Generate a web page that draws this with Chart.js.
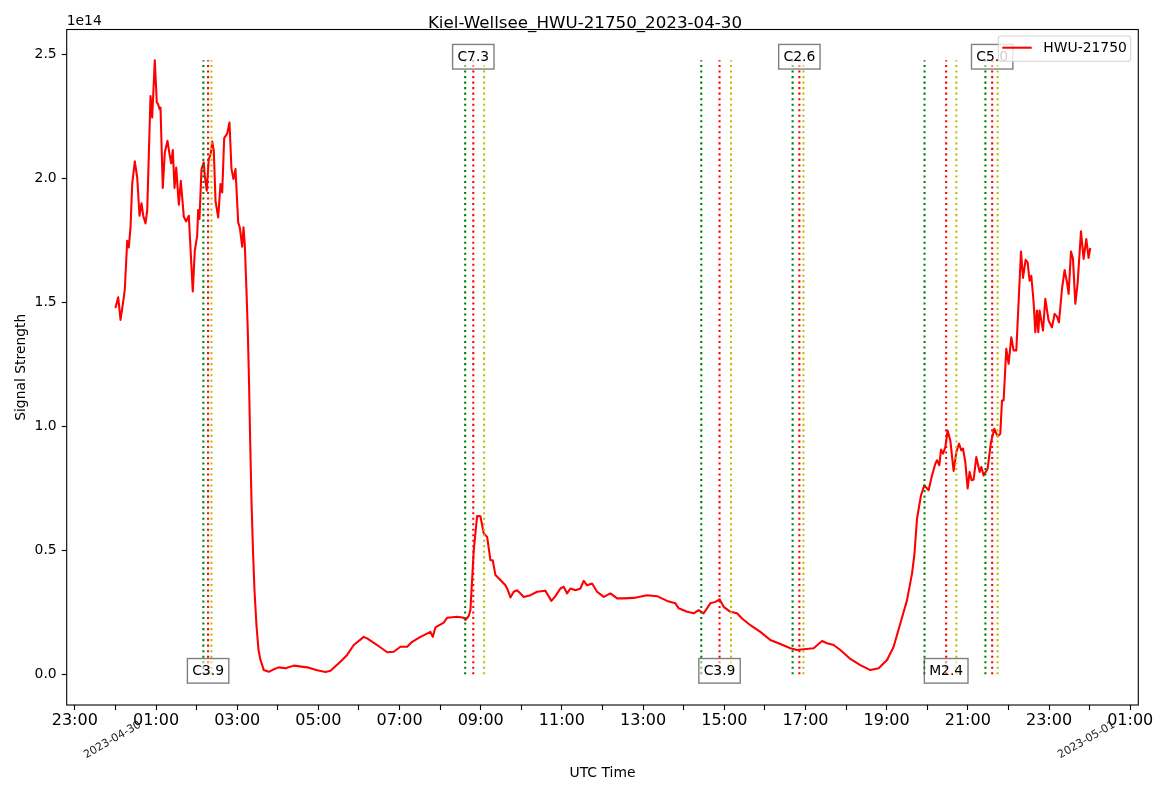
<!DOCTYPE html>
<html><head><meta charset="utf-8">
<script src="https://cdn.jsdelivr.net/npm/chart.js@4.4.0/dist/chart.umd.min.js"></script>
<style>html,body{margin:0;padding:0;background:#fff;}canvas{display:block;}</style>
</head><body>
<canvas id="c" width="1169" height="792"></canvas>
<script>
// ---- data (time in hours UTC since 2023-04-30 00:00, signal in units of 1e14) ----
const chartTitle = "Kiel-Wellsee_HWU-21750_2023-04-30";
const seriesName = "HWU-21750";
const hoursUTC = [0.000,0.069,0.126,0.207,0.232,0.291,0.330,0.372,0.414,0.478,0.537,0.594,0.643,0.685,0.741,0.783,0.865,0.906,0.970,1.020,1.049,1.086,1.111,1.167,1.217,1.283,1.333,1.374,1.414,1.456,1.498,1.562,1.611,1.685,1.744,1.808,1.906,1.956,2.015,2.039,2.071,2.121,2.177,2.202,2.251,2.300,2.350,2.384,2.424,2.466,2.532,2.589,2.631,2.680,2.754,2.810,2.860,2.909,2.958,3.025,3.064,3.123,3.155,3.187,3.229,3.261,3.291,3.320,3.352,3.389,3.426,3.475,3.525,3.574,3.655,3.778,3.901,4.025,4.190,4.394,4.724,4.970,5.175,5.298,5.544,5.709,5.872,6.118,6.202,6.448,6.695,6.857,7.022,7.187,7.310,7.515,7.761,7.818,7.884,8.089,8.172,8.419,8.581,8.623,8.704,8.746,8.828,8.911,8.993,9.074,9.158,9.239,9.296,9.362,9.485,9.608,9.650,9.732,9.813,9.897,9.978,10.059,10.224,10.389,10.593,10.741,10.840,10.963,11.044,11.128,11.209,11.333,11.456,11.537,11.621,11.744,11.867,12.030,12.195,12.360,12.522,12.768,13.099,13.345,13.591,13.796,13.877,14.084,14.246,14.369,14.493,14.657,14.781,14.887,14.985,15.150,15.315,15.438,15.643,15.889,16.135,16.382,16.628,16.793,16.956,17.202,17.409,17.532,17.695,17.860,18.106,18.352,18.599,18.803,19.010,19.172,19.337,19.502,19.626,19.682,19.749,19.847,19.929,20.034,20.118,20.200,20.241,20.298,20.340,20.389,20.446,20.502,20.569,20.650,20.717,20.783,20.840,20.882,20.938,20.995,21.044,21.094,21.143,21.209,21.291,21.333,21.389,21.488,21.571,21.653,21.734,21.800,21.842,21.882,21.948,22.005,22.071,22.128,22.195,22.310,22.360,22.424,22.473,22.522,22.564,22.621,22.663,22.704,22.737,22.768,22.810,22.852,22.909,22.990,23.074,23.138,23.197,23.246,23.320,23.384,23.443,23.483,23.542,23.591,23.648,23.704,23.788,23.852,23.919,23.975,24.017];
const signalE14 = [1.477,1.520,1.429,1.520,1.554,1.748,1.721,1.802,1.977,2.068,2.003,1.849,1.899,1.849,1.818,1.869,2.332,2.245,2.476,2.305,2.300,2.279,2.285,1.961,2.104,2.151,2.097,2.060,2.114,1.961,2.043,1.893,1.990,1.845,1.826,1.849,1.544,1.708,1.769,1.872,1.836,2.037,2.064,2.010,1.950,2.077,2.097,2.148,2.111,1.909,1.842,1.977,1.943,2.162,2.180,2.225,2.037,1.997,2.037,1.822,1.802,1.724,1.802,1.735,1.547,1.386,1.185,0.943,0.702,0.500,0.339,0.198,0.098,0.058,0.017,0.010,0.020,0.028,0.024,0.035,0.028,0.016,0.009,0.014,0.051,0.078,0.118,0.151,0.145,0.118,0.089,0.091,0.111,0.111,0.131,0.151,0.171,0.151,0.189,0.208,0.228,0.232,0.228,0.219,0.235,0.259,0.500,0.638,0.637,0.568,0.554,0.460,0.460,0.400,0.380,0.359,0.346,0.310,0.333,0.339,0.326,0.312,0.319,0.333,0.337,0.296,0.315,0.346,0.353,0.326,0.346,0.339,0.346,0.377,0.359,0.366,0.333,0.312,0.326,0.306,0.306,0.308,0.319,0.315,0.296,0.286,0.266,0.252,0.246,0.259,0.246,0.286,0.292,0.302,0.272,0.252,0.246,0.225,0.198,0.171,0.138,0.122,0.105,0.098,0.101,0.105,0.134,0.125,0.118,0.098,0.062,0.037,0.017,0.024,0.058,0.111,0.205,0.299,0.407,0.480,0.628,0.722,0.762,0.742,0.802,0.849,0.863,0.843,0.906,0.890,0.916,0.983,0.943,0.820,0.896,0.930,0.903,0.910,0.856,0.749,0.816,0.782,0.785,0.876,0.816,0.836,0.802,0.829,0.936,0.990,0.959,0.970,1.104,1.104,1.312,1.252,1.359,1.306,1.306,1.705,1.598,1.671,1.661,1.587,1.607,1.500,1.379,1.467,1.379,1.467,1.426,1.386,1.514,1.426,1.399,1.453,1.442,1.419,1.554,1.630,1.581,1.534,1.705,1.675,1.494,1.574,1.786,1.675,1.755,1.679,1.719];

const flareClass = ["C3.9","C7.3","C3.9","C2.6","M2.4","C5.0"];
const flareStart = ["02:10","08:37","14:26","16:41","19:56","21:26"];
const flarePeak  = ["02:17","08:49","14:53","16:51","20:28","21:36"];
const flareEnd   = ["02:22","09:05","15:10","16:57","20:43","21:44"];

const hourTickValues = [-1,1,3,5,7,9,11,13,15,17,19,21,23,25];
const hourTickLabels = ["23:00","01:00","03:00","05:00","07:00","09:00","11:00","13:00","15:00","17:00","19:00","21:00","23:00","01:00"];
const dateTickValues = [0,24];
const dateTickLabels = ["2023-04-30","2023-05-01"];
const yTickValues = [0,0.5,1.0,1.5,2.0,2.5];
const yOffsetLabel = "1e14";
const xAxisTitle = "UTC Time";
const yAxisTitle = "Signal Strength";

// ---- helpers ----
const toH = s => { const [h,m] = s.split(":").map(Number); return h + m/60; };
const FONT = '"DejaVu Sans", "Liberation Sans", sans-serif';
const dataMax = Math.max(...signalE14);
const dataMin = 0;
const span = dataMax - dataMin;

const paper = {
  id: 'paper',
  beforeDraw(chart) {
    const ctx = chart.ctx;
    ctx.save(); ctx.fillStyle = '#fff'; ctx.fillRect(0,0,chart.width,chart.height); ctx.restore();
  },
  afterDatasetsDraw(chart) {
    const {ctx, chartArea:a, scales:{x,y}} = chart;
    ctx.save();
    ctx.beginPath(); ctx.rect(a.left, a.top, a.right-a.left, a.bottom-a.top); ctx.clip();
    // flare lines
    ctx.lineWidth = 2.08; ctx.setLineDash([2.08, 3.44]); ctx.lineCap = 'butt';
    const y0 = y.getPixelForValue(0), y1 = y.getPixelForValue(dataMax);
    flareClass.forEach((c,i) => {
      [[flareStart[i],'#008000'],[flarePeak[i],'#ff0000'],[flareEnd[i],'#bfbf00']].forEach(([t,col]) => {
        const px = x.getPixelForValue(toH(t));
        ctx.strokeStyle = col; ctx.beginPath(); ctx.moveTo(px, y0); ctx.lineTo(px, y1); ctx.stroke();
      });
    });
    ctx.setLineDash([]);
    // flare labels
    ctx.font = '13.9px ' + FONT;
    flareClass.forEach((c,i) => {
      const cx = x.getPixelForValue(toH(flarePeak[i]));
      const cy = y.getPixelForValue(i % 2 === 0 ? 0.014 : 2.49);
      const w = ctx.measureText(c).width + 9.6, h = 24.6;
      const left = cx - w/2, top = cy - h/2;
      ctx.fillStyle = 'rgba(255,255,255,0.5)'; ctx.fillRect(left, top, w, h);
      ctx.strokeStyle = 'rgba(0,0,0,0.5)'; ctx.lineWidth = 1.39; ctx.strokeRect(left, top, w, h);
      ctx.fillStyle = '#000'; ctx.textAlign = 'center'; ctx.textBaseline = 'alphabetic';
      ctx.fillText(c, cx, top + 16.5);
    });
    ctx.restore();
  },
  afterDraw(chart) {
    const {ctx, chartArea:a, scales:{x,y}} = chart;
    ctx.save();
    // frame
    ctx.strokeStyle = '#000'; ctx.lineWidth = 1.1;
    ctx.strokeRect(a.left, a.top, a.right-a.left, a.bottom-a.top);
    // title
    ctx.fillStyle = '#000';
    ctx.font = '16.7px ' + FONT; ctx.textAlign = 'center'; ctx.textBaseline = 'alphabetic';
    ctx.fillText(chartTitle, 585, 28);
    // offset text
    ctx.font = '13.9px ' + FONT; ctx.textAlign = 'left';
    ctx.fillText(yOffsetLabel, a.left, 25.3);
    // axis titles
    ctx.textAlign = 'center'; ctx.textBaseline = 'middle';
    ctx.fillText(xAxisTitle, (a.left+a.right)/2, 773);
    ctx.save(); ctx.translate(21, (a.top+a.bottom)/2); ctx.rotate(-Math.PI/2);
    ctx.fillText(yAxisTitle, 0, 0); ctx.restore();
    // date labels
    ctx.font = '11px ' + FONT; ctx.fillStyle = '#222';
    dateTickValues.forEach((v,i) => {
      const px = x.getPixelForValue(v);
      ctx.save(); ctx.translate(px - 3, 740); ctx.rotate(-Math.PI/6);
      ctx.textAlign = 'center'; ctx.textBaseline = 'middle';
      ctx.fillText(dateTickLabels[i], 0, 0); ctx.restore();
    });
    // legend
    const lw = 132.4, lh = 25.3, lx = a.right - 7.6 - lw, ly = a.top + 6.5, r = 2.8;
    ctx.beginPath();
    ctx.moveTo(lx+r, ly); ctx.lineTo(lx+lw-r, ly); ctx.arcTo(lx+lw, ly, lx+lw, ly+r, r);
    ctx.lineTo(lx+lw, ly+lh-r); ctx.arcTo(lx+lw, ly+lh, lx+lw-r, ly+lh, r);
    ctx.lineTo(lx+r, ly+lh); ctx.arcTo(lx, ly+lh, lx, ly+lh-r, r);
    ctx.lineTo(lx, ly+r); ctx.arcTo(lx, ly, lx+r, ly, r); ctx.closePath();
    ctx.fillStyle = 'rgba(255,255,255,0.8)'; ctx.fill();
    ctx.strokeStyle = 'rgba(204,204,204,0.8)'; ctx.lineWidth = 1.1; ctx.stroke();
    ctx.strokeStyle = '#ff0000'; ctx.lineWidth = 2.08;
    ctx.beginPath(); ctx.moveTo(lx + 4, ly + 11.7); ctx.lineTo(lx + 33.4, ly + 11.7); ctx.stroke();
    ctx.fillStyle = '#000'; ctx.font = '13.9px ' + FONT; ctx.textAlign = 'left'; ctx.textBaseline = 'alphabetic';
    ctx.fillText(seriesName, lx + 45, ly + 16.3);
    ctx.restore();
  }
};

Chart.defaults.font.family = FONT;
Chart.defaults.color = '#000';

new Chart(document.getElementById('c'), {
  type: 'line',
  data: {
    datasets: [{
      label: seriesName,
      data: hoursUTC.map((h,i) => ({x: h, y: signalE14[i]})),
      borderColor: '#ff0000',
      borderWidth: 2.08,
      pointRadius: 0,
      tension: 0,
      fill: false,
      borderJoinStyle: 'round'
    }]
  },
  options: {
    responsive: false,
    animation: false,
    devicePixelRatio: 1,
    layout: { padding: { left: 0, right: 30.7, top: 29.5, bottom: 0 } },
    plugins: { legend: { display: false }, title: { display: false }, tooltip: { enabled: false } },
    scales: {
      x: {
        type: 'linear',
        min: -1.2 * 1, max: 25.2,
        afterBuildTicks: s => { const t = []; for (let h = -1; h <= 25; h++) t.push({value: h}); s.ticks = t; },
        afterFit: s => { s.height = 87; },
        ticks: {
          autoSkip: false, maxRotation: 0, minRotation: 0, padding: 1,
          font: { size: 16, family: FONT }, color: '#000',
          callback: v => { const i = hourTickValues.indexOf(v); return i >= 0 ? hourTickLabels[i] : ''; }
        },
        grid: { drawOnChartArea: false, drawTicks: true, tickLength: 5, tickColor: '#000', tickWidth: 1.1 },
        border: { display: false }
      },
      y: {
        type: 'linear',
        min: dataMin - 0.05*span, max: dataMax + 0.05*span,
        afterBuildTicks: s => { s.ticks = yTickValues.map(v => ({value: v})); },
        afterFit: s => { s.width = 66.7; },
        ticks: {
          padding: 5, font: { size: 13.9, family: FONT }, color: '#000',
          callback: v => v.toFixed(1)
        },
        grid: { drawOnChartArea: false, drawTicks: true, tickLength: 5, tickColor: '#000', tickWidth: 1.1 },
        border: { display: false }
      }
    }
  },
  plugins: [paper]
});
</script>
</body></html>
